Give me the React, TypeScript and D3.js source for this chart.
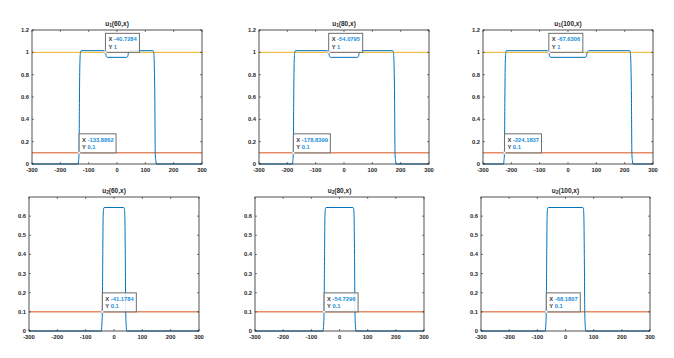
import React from "react";
import * as d3 from "d3";

const xTicks = [-300, -200, -100, 0, 100, 200, 300];
const yTicksTop = [0, 0.2, 0.4, 0.6, 0.8, 1, 1.2];
const yTicksBottom = [0, 0.1, 0.2, 0.3, 0.4, 0.5, 0.6];

const titlesTop = ["60", "80", "100"];
const titlesBottom = ["60", "80", "100"];

const u1_60: [number, number][] = [[-300,0],[-137,0],[-135.5,0.03],[-133.9,0.1],[-132.5,0.6],[-131,0.9],[-129,1.0],[-127,1.015],[-46,1.015],[-43,1.008],[-40.73,1.0],[-38.5,0.97],[-36.5,0.958],[-34,0.955],[34,0.955],[36.5,0.958],[38.5,0.97],[40.73,1.0],[43,1.008],[46,1.015],[127,1.015],[129.5,1.0],[131.5,0.9],[133.5,0.6],[135,0.1],[137,0.03],[139,0],[300,0]];
const u1_80: [number, number][] = [[-300,0],[-182,0],[-180.5,0.03],[-178.8,0.1],[-177.4,0.6],[-176,0.9],[-174,1.0],[-172,1.015],[-59.5,1.015],[-56.5,1.008],[-54.08,1.0],[-51.8,0.97],[-49.8,0.958],[-47.5,0.955],[47.5,0.955],[49.8,0.958],[51.8,0.97],[54.08,1.0],[56.5,1.008],[59.5,1.015],[172,1.015],[174.5,1.0],[176.5,0.9],[178.5,0.6],[180,0.1],[182,0.03],[184,0],[300,0]];
const u1_100: [number, number][] = [[-300,0],[-227.5,0],[-226,0.03],[-224.2,0.1],[-222.8,0.6],[-221.4,0.9],[-219.4,1.0],[-217.4,1.015],[-73,1.015],[-70,1.008],[-67.63,1.0],[-65.3,0.97],[-63.3,0.958],[-61,0.955],[61,0.955],[63.3,0.958],[65.3,0.97],[67.63,1.0],[70,1.008],[73,1.015],[217.4,1.015],[219.9,1.0],[221.9,0.9],[223.9,0.6],[225.4,0.1],[227.4,0.03],[229.4,0],[300,0]];

const u2_60: [number, number][] = [[-300,0],[-44.5,0],[-43,0.03],[-41.18,0.1],[-39.6,0.4],[-38.2,0.6],[-36.7,0.638],[-34.5,0.645],[34.5,0.645],[36.7,0.638],[38.2,0.6],[39.8,0.4],[41.4,0.1],[43,0.03],[44.5,0],[300,0]];
const u2_80: [number, number][] = [[-300,0],[-58,0],[-56.5,0.03],[-54.73,0.1],[-53.1,0.4],[-51.7,0.6],[-50.2,0.638],[-48,0.645],[48,0.645],[50.2,0.638],[51.7,0.6],[53.3,0.4],[54.9,0.1],[56.5,0.03],[58,0],[300,0]];
const u2_100: [number, number][] = [[-300,0],[-71.5,0],[-70,0.03],[-68.19,0.1],[-66.6,0.4],[-65.2,0.6],[-63.7,0.638],[-61.5,0.645],[61.5,0.645],[63.7,0.638],[65.2,0.6],[66.8,0.4],[68.4,0.1],[70,0.03],[71.5,0],[300,0]];

const levelTop = 1;
const levelLow = 0.1;

const tipsTop: { x: number; y: number }[][] = [
  [{ x: -40.7284, y: 1 }, { x: -133.8862, y: 0.1 }],
  [{ x: -54.0795, y: 1 }, { x: -178.8399, y: 0.1 }],
  [{ x: -67.6306, y: 1 }, { x: -224.1837, y: 0.1 }],
];
const tipLabelsTop = [
  ["-40.7284", "-133.8862"],
  ["-54.0795", "-178.8399"],
  ["-67.6306", "-224.1837"],
];
const tipsBottom: { x: number; y: number }[] = [
  { x: -41.1784, y: 0.1 },
  { x: -54.7296, y: 0.1 },
  { x: -68.1807, y: 0.1 },
];
const tipLabelsBottom = ["-41.1784", "-54.7296", "-68.1807"];

const BLUE = "#0072BD";
const RED = "#D95319";
const YELLOW = "#EDB120";
const AX = "#262626";
const FONT = "Liberation Sans, Arial, Helvetica, sans-serif";

type Panel = {
  left: number; right: number; top: number; bottom: number;
  ymax: number; yTicks: number[];
  sub: string; t: string;
  data: [number, number][];
  levels: { v: number; c: string }[];
  tips: { x: number; y: number; label: string; ylabel: string }[];
};

const topBoxes = [[32, 202], [259, 429], [483, 653]];
const bottomBoxes = [[29, 199], [255, 424], [481, 650]];

const panels: Panel[] = [
  ...[u1_60, u1_80, u1_100].map((d, i) => ({
    left: topBoxes[i][0], right: topBoxes[i][1], top: 30, bottom: 164,
    ymax: 1.2, yTicks: yTicksTop, sub: "1", t: titlesTop[i], data: d,
    levels: [{ v: levelLow, c: RED }, { v: levelTop, c: YELLOW }],
    tips: tipsTop[i].map((p, k) => ({ ...p, label: tipLabelsTop[i][k], ylabel: k === 0 ? "1" : "0.1" })),
  })),
  ...[u2_60, u2_80, u2_100].map((d, i) => ({
    left: bottomBoxes[i][0], right: bottomBoxes[i][1], top: 197, bottom: 331,
    ymax: 0.7, yTicks: yTicksBottom, sub: "2", t: titlesBottom[i], data: d,
    levels: [{ v: levelLow, c: RED }],
    tips: [{ ...tipsBottom[i], label: tipLabelsBottom[i], ylabel: "0.1" }],
  })),
];

function PanelView({ p }: { p: Panel }) {
  const x = d3.scaleLinear().domain([-300, 300]).range([p.left, p.right]);
  const y = d3.scaleLinear().domain([0, p.ymax]).range([p.bottom, p.top]);
  const line = d3.line<[number, number]>().x(d => x(d[0])).y(d => y(d[1])).curve(d3.curveMonotoneX);
  const tl = 2;
  return (
    <g>
      <rect x={p.left} y={p.top} width={p.right - p.left} height={p.bottom - p.top} fill="#fff" />
      {p.levels.map((l, i) => (
        <line key={i} x1={x(-300)} x2={x(300)} y1={y(l.v)} y2={y(l.v)} stroke={l.c} strokeWidth={1} />
      ))}
      <path d={line(p.data) || ""} fill="none" stroke={BLUE} strokeWidth={1} />
      <rect x={p.left} y={p.top} width={p.right - p.left} height={p.bottom - p.top} fill="none" stroke={AX} strokeWidth={0.8} />
      {xTicks.map(t => (
        <g key={"x" + t}>
          <line x1={x(t)} x2={x(t)} y1={p.bottom} y2={p.bottom - tl} stroke={AX} strokeWidth={0.6} />
          <line x1={x(t)} x2={x(t)} y1={p.top} y2={p.top + tl} stroke={AX} strokeWidth={0.6} />
          <text x={x(t)} y={p.bottom + 7.5} fontSize={5.8} textAnchor="middle" fill={AX} fontFamily={FONT} fontWeight="bold">{t}</text>
        </g>
      ))}
      {p.yTicks.map(t => (
        <g key={"y" + t}>
          <line x1={p.left} x2={p.left + tl} y1={y(t)} y2={y(t)} stroke={AX} strokeWidth={0.6} />
          <line x1={p.right} x2={p.right - tl} y1={y(t)} y2={y(t)} stroke={AX} strokeWidth={0.6} />
          <text x={p.left - 3} y={y(t) + 2} fontSize={5.8} textAnchor="end" fill={AX} fontFamily={FONT} fontWeight="bold">{String(t)}</text>
        </g>
      ))}
      <text x={(p.left + p.right) / 2} y={p.top - 4.5} fontSize={6.5} textAnchor="middle" fill={AX} fontFamily={FONT} fontWeight="bold">
        u<tspan fontSize={4.8} dy={1.8}>{p.sub}</tspan><tspan dy={-1.8}>({p.t},x)</tspan>
      </text>
      {p.tips.map((tp, i) => {
        const px = x(tp.x), py = y(tp.y);
        const w = tp.label.length > 8 ? 37 : 34;
        const h = 19;
        return (
          <g key={"tip" + i}>
            <rect x={px} y={py - h} width={w} height={h} fill="#fff" fillOpacity={0.85} stroke="#6e6e6e" strokeWidth={1} />
            <text x={px + 3} y={py - h + 8} fontSize={5.8} fontFamily={FONT} fontWeight="bold" fill="#3a3a3a">
              X <tspan fill="#1a8fd8">{tp.label}</tspan>
            </text>
            <text x={px + 3} y={py - h + 15.5} fontSize={5.8} fontFamily={FONT} fontWeight="bold" fill="#3a3a3a">
              Y <tspan fill="#1a8fd8">{tp.ylabel}</tspan>
            </text>
            <circle cx={px} cy={py} r={1.4} fill="#fff" stroke="#999" strokeWidth={0.5} />
          </g>
        );
      })}
    </g>
  );
}

export default function App() {
  return (
    <svg width={674} height={358} style={{ position: "absolute", left: 0, top: 0, background: "#fff" }}>
      <rect width={674} height={358} fill="#fff" />
      {panels.map((p, i) => <PanelView key={i} p={p} />)}
    </svg>
  );
}
